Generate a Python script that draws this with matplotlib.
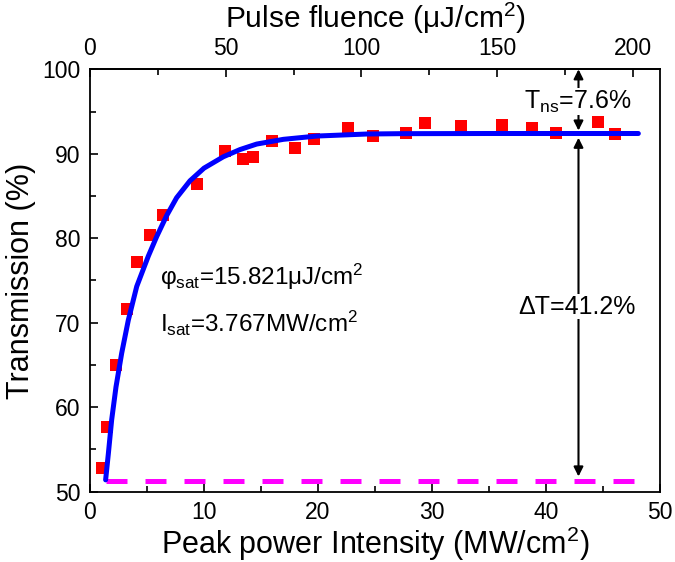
import matplotlib
matplotlib.use("Agg")
import matplotlib.pyplot as plt

plt.rcParams['font.family'] = ['Liberation Sans', 'DejaVu Sans']
plt.rcParams['mathtext.fontset'] = 'custom'
plt.rcParams['mathtext.rm'] = 'Liberation Sans'
plt.rcParams['mathtext.it'] = 'Liberation Sans'
plt.rcParams['mathtext.sf'] = 'Liberation Sans'

# Measured data (Peak power intensity MW/cm^2, Transmission %)
intensity = [1.08, 1.46, 2.28, 3.27, 4.10, 5.26, 6.38, 9.41, 11.82, 13.42, 14.27, 15.96,
             17.98, 19.65, 22.66, 24.85, 27.69, 29.41, 32.52, 36.14, 38.77, 40.85, 44.54, 46.05]
transmission = [52.8, 57.7, 65.0, 71.6, 77.2, 80.4, 82.8, 86.4, 90.3, 89.4, 89.6, 91.5,
                90.7, 91.7, 93.1, 92.1, 92.5, 93.6, 93.3, 93.4, 93.0, 92.5, 93.8, 92.3]

# Fit curve
fit_I = [1.37, 1.61, 1.90, 2.28, 2.78, 3.36, 4.10, 5.12, 5.85, 6.73, 7.6, 8.77, 10.0,
         11.7, 13.16, 14.62, 16.96, 19.9, 24.3, 27.2, 35.0, 48.1]
fit_T = [51.4, 54.5, 58.5, 62.4, 66.4, 70.3, 74.3, 77.9, 80.2, 82.7, 84.8, 86.8, 88.3,
         89.65, 90.5, 91.15, 91.71, 92.1, 92.34, 92.38, 92.4, 92.4]

baseline_T = 51.3
baseline_I = [1.37, 49.3]
arrow_I = 42.85
T_max = 92.4
fluence_per_intensity = 4.2  # uJ/cm^2 per MW/cm^2

x_ticks = [0, 10, 20, 30, 40, 50]
y_ticks = [50, 60, 70, 80, 90, 100]
top_ticks = [0, 50, 100, 150, 200]

fig = plt.figure(figsize=(6.75, 5.62), dpi=100)
ax = fig.add_axes([90/675, 1-491.7/562, 570/675, (491.7-69.3)/562])

ax.plot(baseline_I, [baseline_T, baseline_T], color='#FF00FF', lw=3.6,
        dashes=(4.2, 3.6), solid_capstyle='butt', zorder=2)
ax.plot(intensity, transmission, 's', color='#FF0000', markersize=8.6, mew=0, zorder=3)
ax.plot(fit_I, fit_T, color='#0000FF', lw=3.6, zorder=4, solid_capstyle='round',
        solid_joinstyle='round')

ax.set_xlim(0, 50)
ax.set_ylim(50, 100)
ax.set_xticks(x_ticks)
ax.set_yticks(y_ticks)
ax.set_xticks([5, 15, 25, 35, 45], minor=True)
ax.set_yticks([55, 65, 75, 85, 95], minor=True)
ax.tick_params(which='both', direction='in', top=False, right=False, labelsize=16.5, width=1.2)
ax.tick_params(which='major', length=6)
ax.tick_params(which='minor', length=4)
ax.tick_params(axis='x', pad=7)
ax.tick_params(axis='y', pad=7)
for s in ax.spines.values():
    s.set_linewidth(1.3)

ax.set_xlabel('Peak power Intensity (MW/cm$^2$)', fontsize=22, labelpad=0)
ax.set_ylabel('Transmission (%)', fontsize=22, labelpad=4)

sec = ax.secondary_xaxis('top', functions=(lambda x: x*fluence_per_intensity,
                                           lambda x: x/fluence_per_intensity))
sec.set_xticks(top_ticks)
sec.set_xticks([25, 75, 125, 175], minor=True)
sec.tick_params(which='both', direction='in', labelsize=16.5, width=1.2, pad=7)
sec.tick_params(which='major', length=6)
sec.tick_params(which='minor', length=4)
sec.spines['top'].set_linewidth(1.3)
sec.set_xlabel('Pulse fluence ($\\mathrm{\\mu}$J/cm$^2$)', fontsize=21.5, labelpad=6)

# arrows
ax.annotate('', xy=(arrow_I, 100.0), xytext=(arrow_I, T_max + 0.35),
            arrowprops=dict(arrowstyle='<|-|>', color='black', lw=1.5,
                            mutation_scale=14, shrinkA=0, shrinkB=0),
            annotation_clip=False, zorder=5)
ax.annotate('', xy=(arrow_I, T_max - 0.5), xytext=(arrow_I, 51.8),
            arrowprops=dict(arrowstyle='<|-|>', color='black', lw=1.5,
                            mutation_scale=14, shrinkA=0, shrinkB=0),
            annotation_clip=False, zorder=5)

ax.text(arrow_I - 0.1, 96.2, 'T$_{\\mathrm{ns}}$=7.6%', fontsize=18, ha='center', va='center',
        bbox=dict(facecolor='white', edgecolor='none', pad=0.0), zorder=6)
ax.text(arrow_I - 0.1, 71.9, '\u0394T=41.2%', fontsize=18, ha='center', va='center',
        bbox=dict(facecolor='white', edgecolor='none', pad=0.5), zorder=6)

ax.text(6.1, 75.4, '\u03c6$_{\\mathrm{sat}}$=15.821\u03bcJ/cm$^2$', fontsize=17.5,
        ha='left', va='center', zorder=6)
ax.text(6.1, 69.9, 'I$_{\\mathrm{sat}}$=3.767MW/cm$^2$', fontsize=17.5,
        ha='left', va='center', zorder=6)

fig.savefig('out.png', dpi=100)
